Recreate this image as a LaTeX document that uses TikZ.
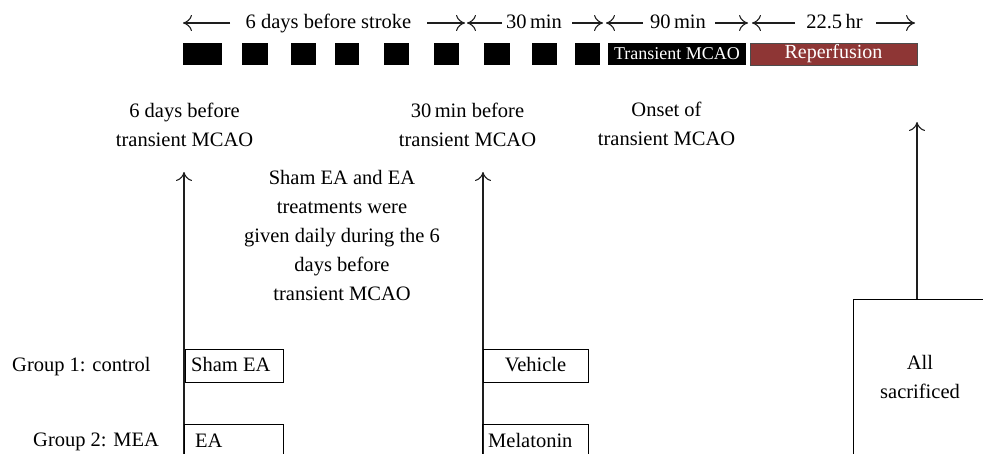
\documentclass[tikz,border=0pt]{standalone}
\usepackage{fontspec}
\setmainfont{Liberation Serif}
\usetikzlibrary{arrows.meta,calc}
\definecolor{reperf}{RGB}{142,54,53}
\definecolor{ln}{RGB}{30,30,30}
\begin{document}
\begin{tikzpicture}[x=1pt,y=-1pt,
  every node/.style={font=\fontsize{20.5}{29}\selectfont, inner sep=0pt},
  txt/.style={align=center},
  blk/.style={fill=black, draw=none, minimum height=22pt},
  gbox/.style={draw=black, line width=1.1pt},
  tip/.style={draw=ln, line width=1.1pt, -{Computer Modern Rightarrow[length=9pt,width=16pt,line width=1.1pt]}},
]
\useasboundingbox (0,0) rectangle (983,453);

% timeline labels
\node[anchor=base] (d6)  at (328.5,28) {6 days before stroke};
\node[anchor=base] (m30) at (534,28) {30\,min};
\node[anchor=base] (m90) at (678,28) {90\,min};
\node[anchor=base] (h22) at (834.5,28) {22.5\,hr};
\coordinate (a1s) at (230,23); \coordinate (a1e) at (183,23);
\coordinate (a2s) at (427,23); \coordinate (a2e) at (465,23);
\coordinate (a3s) at (502,23); \coordinate (a3e) at (467,23);
\coordinate (a4s) at (572,23); \coordinate (a4e) at (603,23);
\coordinate (a5s) at (643,23); \coordinate (a5e) at (606,23);
\coordinate (a6s) at (715,23); \coordinate (a6e) at (748,23);
\coordinate (a7s) at (795,23); \coordinate (a7e) at (752,23);
\coordinate (a8s) at (876,23); \coordinate (a8e) at (915,23);
\foreach \i in {1,...,8} \draw[tip] (a\i s) -- (a\i e);

% blocks
\node[blk, minimum width=39pt] (sq1) at (202.5,54) {};
\node[blk, minimum width=26pt] (sq2) at (255,54) {};
\node[blk, minimum width=25pt] (sq3) at (303.5,54) {};
\node[blk, minimum width=24pt] (sq4) at (347,54) {};
\node[blk, minimum width=25pt] (sq5) at (396.5,54) {};
\node[blk, minimum width=25pt] (sq6) at (446.5,54) {};
\node[blk, minimum width=26pt] (sq7) at (497,54) {};
\node[blk, minimum width=25pt] (sq8) at (544.5,54) {};
\node[blk, minimum width=25pt] (sq9) at (587.5,54) {};
\node[blk, minimum width=138pt, text=white, font=\fontsize{18}{20}\selectfont] (tmcao) at (677,54) {Transient MCAO};
\node[fill=reperf, draw=black!70, line width=0.8pt, minimum width=167pt, minimum height=22pt, text=white, font=\fontsize{20}{22}\selectfont] (rep) at (833.5,54) {Reperfusion\hspace{14pt}};

% time-point labels
\node[txt] (l6d) at (184.5,125) {6 days before\\transient MCAO};
\node[txt] (l30) at (467.5,125) {30\,min before\\transient MCAO};
\node[txt] (lon) at (666.5,124) {Onset of\\transient MCAO};
\node[txt] (desc) at (342,235) {Sham EA and EA\\treatments were\\given daily during the 6\\days before\\transient MCAO};

% vertical arrows
\coordinate (v1t) at (184,172); \coordinate (v1b) at (184,460);
\coordinate (v2t) at (483,172); \coordinate (v2b) at (483,460);
\draw[tip] (v1b) -- (v1t);
\draw[tip] (v2b) -- (v2t);

% group labels
\node[anchor=base west] (g1) at (12,371) {Group 1: control};
\node[anchor=base west] (g2) at (33,446) {Group 2: MEA};

% treatment boxes
\node[gbox, anchor=north west, minimum width=98pt, minimum height=33pt] (sham) at (185,349) {};
\node[anchor=base west] (shamt) at (191,371) {Sham EA};
\node[gbox, anchor=north west, minimum width=105pt, minimum height=33pt] (veh) at (483,349) {};
\node[anchor=base] (veht) at (535.5,371) {Vehicle};
\node[gbox, anchor=north west, minimum width=99pt, minimum height=50pt] (ea) at (184,424) {};
\node[anchor=base west] (eat) at (195,447) {EA};
\node[gbox, anchor=north west, minimum width=106pt, minimum height=50pt] (mel) at (482,424) {};
\node[anchor=base west] (melt) at (488,447) {Melatonin};

% sacrificed
\node[gbox, anchor=north west, minimum width=134pt, minimum height=170pt] (sac) at (853,299) {};
\node[txt] (sact) at (920,377) {All\\sacrificed};
\coordinate (rt) at (917,122);
\draw[tip] (sac.north -| rt) -- (rt);
\end{tikzpicture}
\end{document}
